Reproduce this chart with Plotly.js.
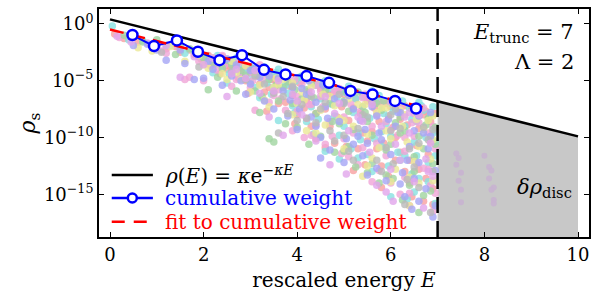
<!DOCTYPE html>
<html>
<head>
<meta charset="utf-8">
<script src="https://cdn.plot.ly/plotly-3.0.1.min.js"></script>
<style>html,body{margin:0;padding:0;background:#fff}#chart{width:598px;height:304px}</style>
</head>
<body>
<div id="chart"></div>
<script>
// ---- data (energies E, log10 of weights) ----
const modelE = [0, 10];
const modelRho = [2.45, 1.26e-10];

const cumE = [0.48, 0.94, 1.43, 1.88, 2.34, 2.82, 3.29, 3.75, 4.20, 4.68, 5.14, 5.61, 6.09, 6.54];
const cumLog = [-0.99, -1.96, -1.46, -2.46, -3.20, -2.76, -4.05, -4.45, -4.60, -5.19, -5.90, -6.21, -6.78, -7.45];

const fitE = [0, 6.8];
const fitRho = [0.316, 3.5e-8];

const discE = [7, 7, 10, 10];
const discRho = [1e-20, 1.55e-7, 1.26e-10, 1e-20];
const eTrunc = 7;

// cloud of individual state weights, by colour group
const salmonE = [0.1,0.3,0.6,0.9,1.2,1.5,1.8,2.0,2.3,2.5,2.7,2.9,3.1,3.3,3.5,3.6,3.8,4.0,4.1,4.3,4.5,4.6,4.8,5.0,5.1,5.3,5.5,5.6,5.8,6.0,6.1,6.3,6.5,6.6,6.8,6.9,3.2,4.2,5.2,6.2,4.7,5.7,6.7,2.4,3.7,
  1.4,1.7,2.1,2.6,2.8,3.0,3.4,3.9,4.4,4.9,5.4,5.9,6.4,6.95,6.85,6.75,6.45,6.2,5.95,5.75,5.45,5.25,5.05,4.85,4.65,4.4,4.15,3.95,3.75,3.55,3.35,3.15,2.95,2.75,2.55,2.35,2.15,1.95,6.55,6.05,6.9,6.6,6.3,5.85,5.65,
  2.2,2.45,2.65,2.85,3.05,3.25,3.45,3.65,3.85,4.05,4.25,4.45,4.75,4.95,5.15,5.35,5.55,5.75,5.95,6.15,6.35,6.55,6.75,6.95,6.85,
  4.6,5.2,5.8,6.4,6.7,5.5,6.1];
const salmonLog = [-0.9,-1.3,-1.6,-1.8,-2.2,-2.5,-2.7,-3.4,-3.1,-4.0,-3.5,-5.0,-4.0,-6.0,-4.5,-7.0,-5.2,-8.0,-5.0,-9.0,-5.7,-7.5,-10.5,-6.2,-8.5,-11.0,-6.8,-9.5,-12.5,-7.3,-10.0,-13.0,-7.6,-9.2,-11.5,-14.5,-5.3,-6.8,-7.4,-8.4,-9.0,-11.0,-8.0,-2.9,-4.6,
  -2.0,-2.3,-2.8,-3.3,-4.3,-3.9,-5.6,-6.3,-7.9,-5.9,-9.6,-7.0,-12.0,-7.9,-10.4,-13.6,-15.2,-11.3,-13.4,-8.6,-12.4,-6.6,-10.8,-8.2,-6.1,-10.1,-7.4,-8.8,-6.9,-5.1,-7.7,-4.6,-6.1,-4.8,-3.7,-4.4,-3.7,-3.1,-10.7,-9.1,-15.9,-12.8,-7.2,-10.5,-7.4,
  -3.0,-3.4,-3.7,-3.9,-4.3,-4.2,-4.9,-4.6,-5.5,-5.2,-5.9,-5.3,-6.2,-7.3,-6.0,-7.9,-6.5,-6.9,-8.1,-7.0,-8.9,-7.3,-7.7,-9.4,-8.6,
  -10.9,-12.9,-14.4,-14.0,-15.6,-10.3,-12.0];

const cyanE = [0.05,0.4,0.7,1.0,1.3,1.6,1.9,2.1,2.2,2.6,2.8,3.0,3.2,3.4,3.5,3.7,3.9,4.0,4.2,4.4,4.5,4.7,4.9,5.0,5.2,5.4,5.5,5.7,5.9,6.0,6.2,6.4,6.5,6.7,6.9,6.95,3.0,4.0,5.0,6.0,6.6,5.6,4.6,3.6,2.5,
  1.2,1.8,2.3,2.4,2.7,2.9,3.1,3.3,3.6,3.8,4.1,4.3,4.6,4.8,5.1,5.3,5.6,5.8,6.1,6.3,6.6,6.8,6.9,6.75,6.45,6.15,5.85,5.45,5.15,4.85,4.35,3.95,3.45,3.05,2.65,6.55,6.95,6.35,5.95,5.65,
  2.05,2.35,2.55,2.75,3.15,3.35,3.55,3.75,4.05,4.25,4.55,4.75,4.95,5.25,5.55,5.75,6.05,6.25,6.45,6.65,6.85,6.95,5.35,4.45,6.55,
  4.9,5.3,6.0,6.5,6.8,5.8,6.3];
const cyanLog = [-0.2,-1.4,-1.5,-2.0,-1.9,-2.6,-2.9,-3.2,-4.3,-3.4,-4.6,-3.8,-6.5,-4.4,-5.6,-4.5,-7.2,-5.0,-8.6,-5.4,-6.6,-5.7,-9.8,-6.0,-7.8,-6.4,-11.5,-6.7,-8.8,-7.0,-12.0,-7.4,-10.4,-7.6,-9.6,-15.8,-5.1,-6.9,-9.0,-9.9,-13.6,-13.0,-11.2,-8.5,-5.2,
  -1.9,-2.4,-2.8,-3.7,-3.0,-4.1,-5.6,-3.8,-4.0,-6.1,-4.6,-7.3,-5.0,-8.1,-5.5,-9.6,-5.9,-10.8,-6.6,-9.0,-6.9,-12.2,-7.3,-10.0,-13.2,-11.3,-7.9,-8.3,-11.0,-6.5,-9.7,-7.8,-6.2,-4.6,-4.1,-8.6,-11.6,-15.4,-12.5,-10.1,
  -2.8,-3.2,-4.4,-3.6,-3.9,-5.2,-4.3,-5.4,-4.7,-6.3,-5.2,-7.1,-5.8,-6.6,-8.3,-6.3,-7.7,-6.8,-8.4,-7.2,-8.0,-10.4,-10.2,-8.4,-11.6,
  -11.9,-11.8,-15.2,-14.8,-13.9,-9.5,-11.6];

const pinkE = [0.2,0.5,0.8,1.1,1.4,1.7,1.9,2.2,2.4,2.6,2.9,3.1,3.3,3.5,3.8,3.9,4.1,4.3,4.4,4.6,4.8,5.0,5.1,5.3,5.5,5.6,5.8,6.0,6.2,6.3,6.5,6.6,6.8,6.9,1.6,2.0,3.0,4.0,5.0,6.0,6.4,5.4,4.4,3.4,2.8,
  1.2,1.9,2.5,2.7,3.0,3.2,3.6,3.7,4.0,4.2,4.5,4.7,4.9,5.2,5.4,5.7,5.9,6.1,6.3,6.5,6.7,6.85,6.95,6.55,6.15,5.75,5.35,4.95,4.55,4.15,3.75,3.25,2.3,6.4,6.8,
  2.15,2.45,2.75,3.05,3.35,3.65,3.95,4.25,4.5,4.85,5.15,5.45,5.7,6.0,6.3,6.6,6.9,5.9,4.75,6.45,
  4.3,5.1,5.6,6.2,6.7,6.95];
const pinkLog = [-1.2,-1.1,-1.7,-2.4,-1.9,-4.7,-2.5,-3.6,-2.8,-5.5,-3.7,-7.6,-4.2,-6.3,-4.8,-9.4,-5.3,-7.1,-5.4,-10.6,-6.0,-8.2,-6.3,-12.4,-6.7,-9.0,-7.0,-14.0,-7.5,-11.2,-7.9,-8.7,-12.8,-16.5,-4.9,-5.0,-5.6,-7.7,-10.1,-9.3,-14.9,-10.9,-8.9,-6.9,-4.4,
  -2.6,-3.3,-3.1,-4.9,-4.3,-3.6,-5.8,-4.4,-6.4,-8.3,-5.9,-8.6,-5.7,-9.6,-6.5,-8.0,-11.6,-7.1,-13.5,-9.9,-7.4,-14.2,-11.0,-12.3,-9.8,-12.9,-7.7,-11.4,-7.3,-10.0,-7.6,-5.0,-4.1,-16.0,-9.6,
  -3.1,-3.6,-3.4,-5.0,-4.5,-6.6,-4.9,-7.1,-6.4,-5.8,-7.1,-6.2,-10.5,-6.9,-10.0,-7.6,-9.0,-8.6,-9.9,-8.7,
  -9.8,-11.7,-13.9,-15.0,-12.7,-14.9];

const greenE = [0.3,0.7,1.0,1.4,1.7,2.0,2.3,2.5,2.7,3.0,3.2,3.4,3.6,3.8,4.0,4.2,4.4,4.6,4.8,5.0,5.2,5.4,5.6,5.8,6.0,6.2,6.4,6.6,6.8,6.9,3.4,3.5,2.1,4.9,5.9,6.7,4.1,5.1,6.1,6.5,
  1.5,2.2,2.6,2.9,3.1,3.3,3.7,3.9,4.3,4.5,4.7,5.1,5.3,5.5,5.7,5.9,6.1,6.3,6.5,6.7,6.85,6.95,6.25,5.75,5.25,4.75,4.25,3.75,3.25,6.55,
  2.4,2.8,3.15,3.55,3.95,4.35,4.65,5.05,5.45,5.85,6.2,6.45,6.75,6.95,5.6,
  5.0,5.5,6.05,6.6];
const greenLog = [-1.0,-1.6,-1.4,-2.7,-2.2,-3.0,-4.7,-3.2,-5.9,-3.9,-7.8,-4.9,-6.8,-5.1,-9.1,-5.8,-7.9,-5.9,-11.3,-6.8,-9.3,-7.3,-12.3,-7.6,-10.6,-8.2,-14.2,-9.9,-8.3,-12.3,-10.1,-10.4,-5.8,-8.8,-13.3,-15.1,-6.6,-7.7,-8.7,-11.7,
  -1.9,-3.4,-3.6,-4.5,-5.9,-4.3,-5.6,-7.0,-5.2,-9.9,-7.0,-10.8,-6.0,-8.6,-7.0,-11.1,-6.9,-9.4,-13.0,-11.0,-14.7,-9.1,-15.5,-14.0,-12.6,-8.6,-10.6,-8.8,-6.4,-7.8,
  -3.9,-4.1,-4.5,-5.4,-5.8,-6.5,-5.5,-6.0,-7.8,-6.8,-9.6,-7.5,-8.9,-10.6,-9.8,
  -11.2,-13.1,-13.6,-16.6];

const yellowE = [0.6,0.9,1.3,1.6,2.0,2.4,2.8,3.1,3.3,3.6,3.9,4.1,4.4,4.7,5.0,5.3,5.5,5.8,6.1,6.3,6.6,6.8,1.9,2.6,3.5,4.5,5.4,6.4,6.9,5.9,4.9,3.9,
  2.2,2.9,3.2,3.7,4.0,4.3,4.6,4.8,5.1,5.2,5.6,5.7,6.0,6.2,6.5,6.7,6.9,6.6,6.0,5.5,4.2,3.4,2.5,6.85,6.35,
  2.1,2.7,3.0,3.55,4.15,4.55,5.0,5.45,5.9,6.25,6.55,6.9,6.4,5.75];
const yellowLog = [-2.1,-2.4,-2.0,-3.3,-3.6,-4.4,-4.9,-4.3,-6.7,-5.3,-8.0,-6.0,-9.6,-6.4,-11.0,-7.1,-9.7,-7.4,-12.8,-8.0,-10.8,-8.5,-2.8,-3.3,-5.6,-7.6,-13.4,-16.0,-13.8,-9.4,-8.3,-5.2,
  -3.0,-3.7,-5.4,-4.9,-7.0,-5.5,-8.9,-7.2,-6.6,-9.0,-11.8,-7.8,-10.1,-7.6,-12.1,-9.3,-8.1,-14.0,-13.9,-12.5,-9.4,-7.3,-4.9,-11.9,-10.4,
  -3.9,-4.3,-6.0,-4.8,-6.7,-6.2,-8.5,-7.1,-7.4,-9.0,-8.4,-10.2,-13.5,-10.9];

const lavenderE = [0.5,0.8,1.2,1.5,1.8,2.1,2.4,2.7,2.9,3.2,3.5,3.7,4.0,4.2,4.5,4.8,5.0,5.2,5.5,5.7,6.0,6.2,6.5,6.7,6.9,2.0,3.0,3.9,4.9,5.8,6.3,6.8,4.3,5.3,6.6,
  1.0,1.6,2.2,2.5,2.8,3.1,3.3,3.6,3.8,4.1,4.4,4.6,4.7,5.1,5.4,5.6,5.9,6.1,6.4,6.6,6.75,6.85,6.95,6.45,6.25,5.95,5.45,5.05,4.55,4.05,
  2.6,3.0,3.4,3.85,4.25,4.65,5.0,5.35,5.75,6.15,6.5,6.85,6.35,5.5,4.4,
  4.5,5.2,5.7,6.2,6.6,6.95];
const lavenderLog = [-1.9,-1.8,-3.2,-2.3,-4.9,-3.3,-5.4,-3.6,-6.2,-4.7,-7.5,-5.9,-9.3,-6.2,-10.0,-6.6,-12.2,-7.5,-13.3,-8.1,-11.5,-7.8,-13.6,-9.6,-17.0,-4.8,-4.1,-5.6,-8.6,-10.2,-15.2,-11.0,-8.2,-9.9,-8.1,
  -2.3,-3.5,-4.0,-3.1,-5.0,-3.9,-6.8,-4.8,-8.1,-5.7,-9.0,-7.3,-11.1,-6.3,-11.6,-7.3,-13.8,-9.0,-10.8,-12.2,-14.5,-7.8,-12.9,-16.3,-13.1,-8.4,-9.3,-10.1,-5.4,-7.5,
  -4.6,-5.3,-4.6,-6.7,-5.0,-8.3,-6.9,-8.5,-9.6,-7.8,-9.4,-9.9,-12.0,-10.5,-6.9,
  -11.8,-10.6,-12.7,-14.1,-15.6,-16.0];

const grayE = [1.1,1.9,2.6,3.3,3.8,4.3,4.7,5.1,5.5,5.9,6.2,6.5,6.8,3.6,4.0,5.0,6.0,6.6,5.7,4.6,
  2.3,2.9,3.5,4.1,4.4,4.9,5.3,5.6,5.8,6.1,6.4,6.7,6.9,6.3,5.2,4.8,3.9,6.55,6.85,6.05,
  3.1,3.7,4.5,5.4,6.0,6.6,6.9,5.0,6.35,4.2];
const grayLog = [-2.5,-3.8,-4.2,-5.3,-7.9,-6.4,-9.4,-11.2,-8.2,-10.9,-9.2,-12.6,-10.2,-9.6,-8.5,-7.0,-8.0,-14.4,-12.0,-6.9,
  -3.5,-4.9,-6.1,-7.1,-8.7,-6.2,-9.2,-6.9,-13.0,-7.5,-11.0,-9.1,-13.0,-15.9,-12.0,-10.3,-5.5,-7.7,-16.6,-12.3,
  -4.6,-6.4,-7.5,-8.0,-9.4,-10.5,-9.3,-9.8,-13.7,-8.3];

const violetE = [0.15,0.45,1.0,1.5,2.2,2.9,3.4,3.9,4.4,4.9,5.4,5.9,6.4,6.85,3.7,4.7,5.7,6.7,2.5,6.2,
  1.2,1.8,2.6,3.1,3.6,4.1,4.6,5.1,5.6,6.1,6.6,6.9,6.5,6.05,5.55,5.05,4.3,3.2,6.75,6.3,
  2.0,2.7,3.5,4.0,4.8,5.3,5.8,6.4,6.8,6.0];
const violetLog = [-1.1,-1.6,-2.1,-4.7,-3.0,-4.8,-8.2,-6.2,-10.3,-7.0,-8.6,-14.8,-9.6,-10.5,-9.8,-12.4,-14.2,-16.2,-6.4,-12.0,
  -1.9,-2.9,-4.4,-4.1,-5.0,-8.0,-6.4,-9.4,-7.1,-10.6,-8.0,-13.4,-13.9,-15.6,-11.3,-13.2,-6.0,-6.1,-11.9,-8.2,
  -3.6,-4.0,-5.9,-6.8,-7.9,-8.2,-9.0,-7.8,-13.0,-12.8];

const beyondE = [7.4,7.45,7.4,7.5,7.45,7.5,7.5,8.0,8.1,8.15,8.1,8.2,8.15,8.2,8.2];
const beyondLog = [-11.4,-11.8,-12.4,-13.1,-13.8,-14.6,-15.7,-11.6,-12.6,-12.9,-13.6,-14.4,-14.6,-15.5,-15.8];

const yTickVals = [1, 1e-5, 1e-10, 1e-15];
const yTickText = ['10<sup>0</sup>', '10<sup>−5</sup>', '10<sup>−10</sup>', '10<sup>−15</sup>'];
const xTickVals = [0, 2, 4, 6, 8, 10];

const legendLabels = [
  '<i>ρ</i>(<i>E</i>) = <i>κ</i>e<sup>−<i>κE</i></sup>',
  'cumulative weight',
  'fit to cumulative weight'
];

// ---- build ----
const pow10 = a => a.map(v => Math.pow(10, v));
const FONT = "DejaVu Serif";
const BLUE = 'rgb(0,0,255)', RED = 'rgb(255,0,0)';

const cloudGroups = [
  [salmonE, salmonLog, 'rgb(248,160,160)'],
  [cyanE, cyanLog, 'rgb(135,225,225)'],
  [pinkE, pinkLog, 'rgb(240,165,215)'],
  [greenE, greenLog, 'rgb(160,212,160)'],
  [yellowE, yellowLog, 'rgb(235,232,150)'],
  [lavenderE, lavenderLog, 'rgb(165,165,245)'],
  [grayE, grayLog, 'rgb(185,185,185)'],
  [violetE, violetLog, 'rgb(225,165,235)']
];

const traces = [];
traces.push({
  x: discE, y: discRho, type: 'scatter', mode: 'lines', fill: 'toself',
  fillcolor: 'rgb(200,200,200)', line: {width: 0}, showlegend: false, hoverinfo: 'skip'
});
cloudGroups.forEach(g => traces.push({
  x: g[0], y: pow10(g[1]), type: 'scatter', mode: 'markers',
  marker: {size: 7.5, color: g[2], opacity: 0.8, line: {width: 0}},
  showlegend: false, hoverinfo: 'skip'
}));
traces.push({
  x: beyondE, y: pow10(beyondLog), type: 'scatter', mode: 'markers',
  marker: {size: 6, color: 'rgb(200,178,208)', opacity: 0.9, line: {width: 0}},
  showlegend: false, hoverinfo: 'skip'
});
traces.push({
  x: modelE, y: modelRho, type: 'scatter', mode: 'lines',
  line: {color: 'black', width: 2.5}, name: legendLabels[0], showlegend: false
});
traces.push({
  x: cumE, y: pow10(cumLog), type: 'scatter', mode: 'lines',
  line: {color: BLUE, width: 2}, name: legendLabels[1], showlegend: false
});
traces.push({
  x: fitE, y: fitRho, type: 'scatter', mode: 'lines',
  line: {color: RED, width: 2.5, dash: '14px,8px'}, name: legendLabels[2], showlegend: false
});
traces.push({
  x: cumE, y: pow10(cumLog), type: 'scatter', mode: 'markers',
  marker: {size: 10, color: 'white', line: {color: BLUE, width: 2.5}},
  showlegend: false, hoverinfo: 'skip'
});

// hand-placed legend (paper coordinates)
const legRows = [0.272, 0.171, 0.067];
const legX0 = 0.026, legX1 = 0.110, legXc = 0.068, legText = 0.130;
const legendShapes = [
  {type: 'line', xref: 'paper', yref: 'paper', x0: legX0, x1: legX1, y0: legRows[0], y1: legRows[0], line: {color: 'black', width: 2.5}},
  {type: 'line', xref: 'paper', yref: 'paper', x0: legX0, x1: legX1, y0: legRows[1], y1: legRows[1], line: {color: BLUE, width: 2.5}},
  {type: 'circle', xref: 'paper', yref: 'paper', xsizemode: 'pixel', ysizemode: 'pixel',
   xanchor: legXc, yanchor: legRows[1], x0: -4.5, x1: 4.5, y0: -4.5, y1: 4.5,
   fillcolor: 'white', line: {color: BLUE, width: 2.5}},
  {type: 'line', xref: 'paper', yref: 'paper', x0: legX0, x1: legX1, y0: legRows[2], y1: legRows[2], line: {color: RED, width: 2.5, dash: '13px,9px'}}
];
const legendColors = ['black', BLUE, RED];
const legendAnn = legendLabels.map((t, i) => ({
  xref: 'paper', yref: 'paper', x: legText, y: legRows[i], xanchor: 'left', yanchor: 'middle',
  showarrow: false, text: t, font: {family: FONT, size: 20, color: legendColors[i]}
}));

const layout = {
  width: 598, height: 304,
  margin: {l: 99, r: 9, t: 9, b: 67},
  paper_bgcolor: 'white', plot_bgcolor: 'white',
  font: {family: FONT, size: 18, color: 'black'},
  showlegend: false,
  xaxis: {
    range: [-0.235, 10.235], tickvals: xTickVals,
    ticks: 'inside', ticklen: 5, tickwidth: 1, tickcolor: 'black',
    showline: true, linecolor: 'black', linewidth: 2, mirror: 'ticks',
    showgrid: false, zeroline: false,
    tickfont: {family: FONT, size: 18},
    title: {text: 'rescaled energy <i>E</i>', font: {family: FONT, size: 20}, standoff: 9}
  },
  yaxis: {
    type: 'log', range: [-18.75, 1.3], tickvals: yTickVals, ticktext: yTickText,
    ticks: 'inside', ticklen: 5, tickwidth: 1, tickcolor: 'black',
    showline: true, linecolor: 'black', linewidth: 2, mirror: 'ticks',
    showgrid: false, zeroline: false,
    tickfont: {family: FONT, size: 18},
    title: {text: '<i>ρ</i><sub>s</sub>', font: {family: FONT, size: 22}, standoff: 2}
  },
  shapes: [{
    type: 'line', xref: 'x', yref: 'paper', x0: eTrunc, x1: eTrunc, y0: 0, y1: 1,
    line: {color: 'black', width: 2.5, dash: '16px,8px'}
  }].concat(legendShapes),
  annotations: [
    {xref: 'paper', yref: 'paper', x: 0.973, y: 0.895, xanchor: 'right', yanchor: 'middle', showarrow: false,
     text: '<i>E</i><sub>trunc</sub> = 7', font: {family: FONT, size: 21}},
    {xref: 'paper', yref: 'paper', x: 0.973, y: 0.768, xanchor: 'right', yanchor: 'middle', showarrow: false,
     text: 'Λ = 2', font: {family: FONT, size: 21}},
    {xref: 'x', yref: 'y', x: 9.91, y: -14.46, xanchor: 'right', yanchor: 'middle', showarrow: false,
     text: '<i>δρ</i><sub>disc</sub>', font: {family: FONT, size: 21}}
  ].concat(legendAnn)
};

Plotly.newPlot('chart', traces, layout, {displayModeBar: false, staticPlot: true});
</script>
</body>
</html>
